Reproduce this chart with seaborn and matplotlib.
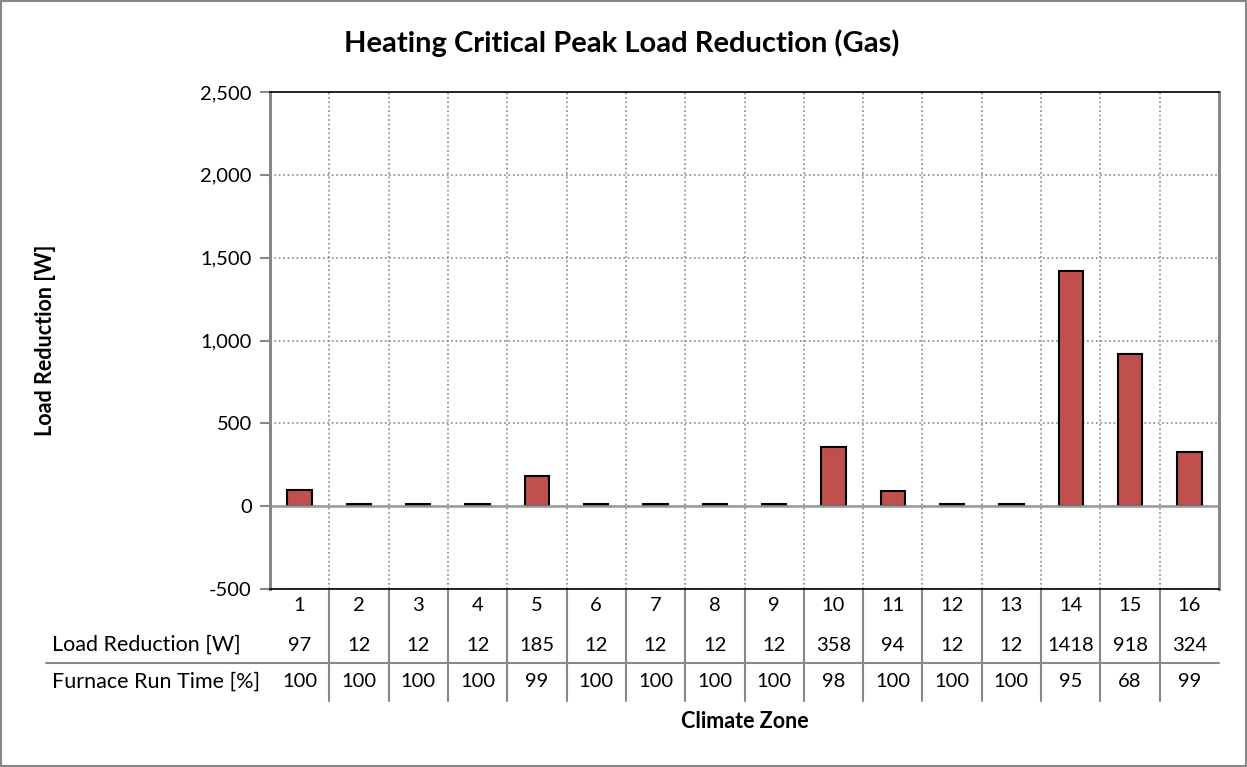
import numpy as np
import pandas as pd
import seaborn as sns
import matplotlib.pyplot as plt
from matplotlib.patches import Rectangle
from matplotlib.lines import Line2D

zones = [str(i) for i in range(1, 17)]
load_reduction = [97, 12, 12, 12, 185, 12, 12, 12, 12, 358, 94, 12, 12, 1418, 918, 324]
run_time = [100, 100, 100, 100, 99, 100, 100, 100, 100, 98, 100, 100, 100, 95, 68, 99]
row_labels = ['Load Reduction [W]', 'Furnace Run Time [%]']
y_ticks = [-500, 0, 500, 1000, 1500, 2000, 2500]

sns.set_theme(style='white')
plt.rcParams['font.family'] = ['Lato', 'DejaVu Sans']
plt.rcParams['text.color'] = 'black'
plt.rcParams['xtick.labelcolor'] = 'black'
plt.rcParams['ytick.labelcolor'] = 'black'

df = pd.DataFrame({'zone': zones, 'load': load_reduction})

W, H = 1247, 767
fig = plt.figure(figsize=(W / 100, H / 100), dpi=100)
ax = fig.add_axes([270 / W, (H - 589) / H, (1219 - 270) / W, (589 - 92) / H])

sns.barplot(data=df, x='zone', y='load', color='#C0504D', edgecolor='black',
            linewidth=1.5, width=0.41, saturation=1, ax=ax)

ax.set_ylim(-500, 2500)
ax.set_xlim(-0.5, 15.5)
ax.set_yticks(y_ticks)
ax.set_yticklabels([f'{v:,}' for v in y_ticks], fontsize=14.5)
ax.tick_params(axis='y', length=7, width=1.5, color='#888888', pad=6, left=True,
               labelcolor='black')
ax.tick_params(axis='x', length=0, pad=6, labelsize=14.5, labelcolor='black')
ax.set_xlabel('')
ax.set_ylabel('')

# grid
ax.set_xticks(np.arange(0.5, 15.5, 1), minor=True)
ax.grid(True, which='minor', axis='x', linestyle=':', color='#888888', lw=1.2)
ax.grid(True, which='major', axis='y', linestyle=':', color='#888888', lw=1.2)
ax.set_axisbelow(True)
ax.axhline(0, color='#999999', lw=1.8, zorder=1)

for side, col, lw in [('left', '#888888', 2.2), ('right', '#888888', 2.2),
                      ('top', 'black', 1.2), ('bottom', 'black', 1.2)]:
    ax.spines[side].set_visible(True)
    ax.spines[side].set_color(col)
    ax.spines[side].set_linewidth(lw)

# data table
trans = ax.get_xaxis_transform()
for i in range(16):
    ax.text(i, -0.113, str(load_reduction[i]), transform=trans, ha='center',
            va='center', fontsize=14.5, color='black')
    ax.text(i, -0.187, str(run_time[i]), transform=trans, ha='center',
            va='center', fontsize=14.5, color='black')
for b in np.arange(0.5, 15.5, 1):
    ax.plot([b, b], [0, -0.226], transform=trans, color='#888888', lw=1.5,
            clip_on=False)
fig.text(52 / W, 1 - 645 / H, row_labels[0], ha='left', va='center', fontsize=15.5)
fig.text(52 / W, 1 - 682 / H, row_labels[1], ha='left', va='center', fontsize=15.5)
fig.add_artist(Line2D([46 / W, 1219 / W], [1 - 663 / H, 1 - 663 / H],
                      color='#888888', lw=1.5))

fig.text(622 / W, 1 - 43 / H, 'Heating Critical Peak Load Reduction (Gas)',
         ha='center', va='center', fontsize=21, fontweight='bold')
fig.text(745 / W, 1 - 721 / H, 'Climate Zone', ha='center', va='center',
         fontsize=15.5, fontweight='bold')
fig.text(46 / W, 1 - 340 / H, 'Load Reduction [W]', ha='center', va='center',
         rotation=90, fontsize=15.5, fontweight='bold')

fig.add_artist(Rectangle((0.001, 0.001), 0.998, 0.998, transform=fig.transFigure,
                         fill=False, edgecolor='#888888', lw=1.5))

fig.savefig('out.png', dpi=100)
